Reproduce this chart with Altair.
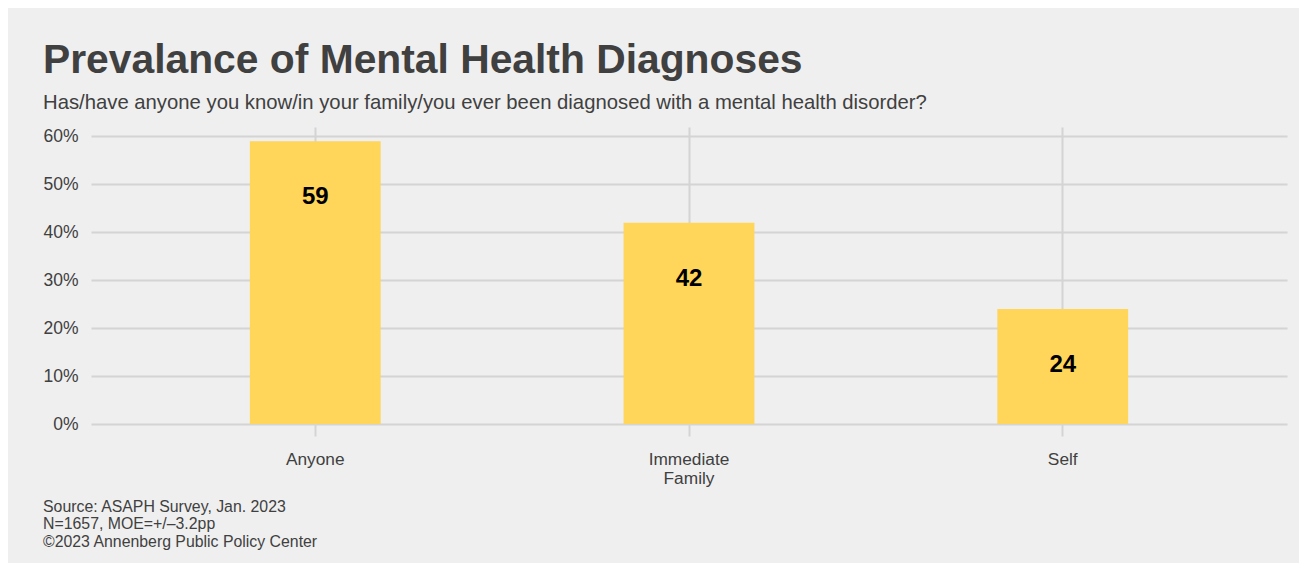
import altair as alt
import pandas as pd

categories = ["Anyone", "Immediate Family", "Self"]
values = [59, 42, 24]
y_ticks = [0, 10, 20, 30, 40, 50, 60]
title_text = "Prevalance of Mental Health Diagnoses"
subtitle_text = "Has/have anyone you know/in your family/you ever been diagnosed with a mental health disorder?"
caption_lines = [
    "Source: ASAPH Survey, Jan. 2023",
    "N=1657, MOE=+/\u20133.2pp",
    "\u00a92023 Annenberg Public Policy Center",
]

FONT = "Liberation Sans"
GRID = "#d4d4d4"
TEXT = "#404040"
BAR = "#FFD55A"

df = pd.DataFrame({"category": categories, "value": values})

x_enc = alt.X(
    "category:N",
    sort=categories,
    scale=alt.Scale(paddingInner=0.65, paddingOuter=0.425),
    axis=alt.Axis(
        title=None, labelAngle=0, grid=True, gridColor=GRID, gridWidth=2,
        bandPosition=0.5, domain=False, ticks=True, tickSize=12,
        tickColor=GRID, tickWidth=2, labelPadding=14, labelFontSize=17.3,
        labelColor=TEXT, labelFont=FONT, labelBaseline="top",
        labelLineHeight=19,
        labelExpr="datum.label == 'Immediate Family' ? ['Immediate', 'Family'] : datum.label",
    ),
)
y_enc = alt.Y(
    "value:Q",
    scale=alt.Scale(domain=[0, 61.95], nice=False, zero=True),
    axis=alt.Axis(
        title=None, values=y_ticks, labelExpr="datum.value + '%'",
        grid=True, gridColor=GRID, gridWidth=2, ticks=False, domain=False,
        labelPadding=13, labelFontSize=17.5, labelColor=TEXT, labelFont=FONT,
    ),
)

bars = alt.Chart(df).mark_bar(color=BAR).encode(x=x_enc, y=y_enc)
labels = alt.Chart(df).mark_text(
    dy=56, baseline="middle", fontSize=24, fontWeight="bold", color="black", font=FONT
).encode(x=x_enc, y=y_enc, text="value:Q")

title_mark = alt.Chart(pd.DataFrame({"t": [title_text]})).mark_text(
    align="left", baseline="alphabetic", fontSize=40.8, fontWeight="bold", color=TEXT, font=FONT
).encode(x=alt.value(-48), y=alt.value(-54.5), text="t:N")

subtitle_mark = alt.Chart(pd.DataFrame({"t": [subtitle_text]})).mark_text(
    align="left", baseline="alphabetic", fontSize=20.3, color=TEXT, font=FONT
).encode(x=alt.value(-48), y=alt.value(-17.7), text="t:N")

caption_mark = alt.Chart(pd.DataFrame({"t": [0]})).mark_text(
    align="left", baseline="alphabetic", fontSize=15.85, color=TEXT, font=FONT,
    lineHeight=17.5,
).encode(x=alt.value(-48), y=alt.value(384.7), text=alt.value(caption_lines))

chart = alt.layer(bars, labels, title_mark, subtitle_mark, caption_mark).properties(
    width=1196, height=297, autosize="none",
    padding={"left": 83, "top": 119, "right": 12, "bottom": 139},
    background="#efefef",
).configure_view(stroke=None)

chart.save("out.html", embed_options={"renderer": "svg", "actions": False})
